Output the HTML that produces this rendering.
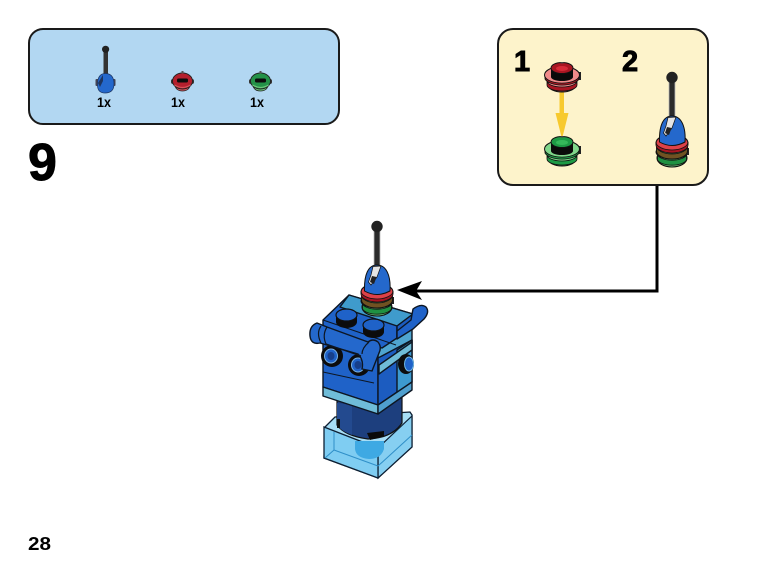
<!DOCTYPE html>
<html>
<head>
<meta charset="utf-8">
<style>
html,body{margin:0;padding:0;background:#fff;width:765px;height:578px;overflow:hidden}
svg{display:block}
text{font-family:"Liberation Sans",sans-serif;font-weight:bold;fill:#000}
.b{stroke:#000;stroke-width:.9px}
.k{stroke:#0d1622;stroke-width:1.4;stroke-linejoin:round}
</style>
</head>
<body>
<svg width="765" height="578" viewBox="0 0 765 578" xmlns="http://www.w3.org/2000/svg">
<defs>
<g id="ring">
  <rect x="15" y="-3" width="4" height="8" fill="#222"/>
  <path d="M-14 6 V10 A14 7 0 0 0 14 10 V6Z" style="fill:var(--l)" stroke="#111" stroke-width="1"/>
  <path d="M-15 6 A15 6 0 0 0 15 6 V10 A15 6 0 0 1 -15 10Z" style="fill:var(--d)" stroke="#111" stroke-width=".8"/>
  <ellipse cx="0" cy="0" rx="17.500" ry="8.500" style="fill:var(--l)" stroke="#111" stroke-width="1"/>
  <path d="M-17 2 A17.500 8 0 0 0 17 2 V4 A17.500 8 0 0 1 -17 4Z" style="fill:var(--d)" stroke="#111" stroke-width=".8"/>
  <path d="M-11 -8 V2 A11 4 0 0 0 11 2 V-8Z" fill="#0a0a0a"/>
  <ellipse cx="0" cy="-7" rx="11" ry="5.500" style="fill:var(--d)" stroke="#111" stroke-width="1"/>
  <ellipse cx="0" cy="-6.500" rx="6" ry="2.500" style="fill:var(--m)"/>
  <rect x="-1.500" y="-13" width="3" height="1.500" fill="#444"/>
</g>
<g id="mini">
  <rect x="-11.500" y="-2" width="23" height="5" rx="2" fill="#333"/>
  <path d="M-8 3 Q-7 10 0 10 Q7 10 8 3Z" style="fill:var(--l)" stroke="#222" stroke-width=".8"/>
  <ellipse cx="0" cy="0" rx="10" ry="8" style="fill:var(--d)" stroke="#222" stroke-width=".9"/>
  <rect x="-5.500" y="-2.500" width="11" height="4" rx="1.500" fill="#0c0c0c"/>
  <path d="M-8 4 Q0 9 8 4" fill="none" style="stroke:var(--l)" stroke-width="1.200"/>
  <rect x="-1" y="-10" width="2" height="2.500" fill="#555"/>
</g>
<g id="stack">
  <ellipse cx="672" cy="158" rx="15" ry="9" fill="#6cc97c" stroke="#111" stroke-width="1.100"/>
  <path d="M657.500 155 A15 7 0 0 0 686.500 155 V160 A15 7 0 0 1 657.500 160Z" fill="#1f9142" stroke="#111" stroke-width=".8"/>
  <ellipse cx="672" cy="152" rx="16" ry="7" fill="#5fbd6e" stroke="#111" stroke-width="1"/>
  <rect x="686" y="148" width="3" height="7" fill="#222"/>
  <path d="M656.500 146 A15.500 8 0 0 0 687.500 146 V151 A15.500 8 0 0 1 656.500 151Z" fill="#6f5222" stroke="#111" stroke-width=".9"/>
  <ellipse cx="672" cy="143" rx="16" ry="8.500" fill="#dd4148" stroke="#111" stroke-width="1.100"/>
  <path d="M656 142 A16 8 0 0 0 688 142 V145 A16 8 0 0 1 656 145Z" fill="#a81522" stroke="#111" stroke-width=".8"/>
  <rect x="669" y="81" width="6" height="40" fill="#2b2b2b" stroke="#bbb" stroke-width=".8"/>
  <circle cx="672" cy="77.500" r="5.700" fill="#222"/>
  <path d="M659.500 142 C659 126 663 116 672 116 C681 116 686 126 685 142 Q672 149 659.500 142Z" fill="#2468cc" stroke="#111" stroke-width="1"/>
  <path d="M668 117.500 L676 117 L672 128 L666 136 L663.500 133 L666 126Z" fill="#e4e4e4" stroke="#111" stroke-width=".7"/>
  <path d="M667 127 L671.500 128 L669 135 L665 133Z" fill="#222"/>
</g>
</defs>

<!-- blue parts panel -->
<rect x="29" y="29" width="310" height="95" rx="14" fill="#b2d7f2" stroke="#1a1a1a" stroke-width="2"/>
<rect x="103.500" y="50" width="4.500" height="26" fill="#333"/>
<circle cx="105.600" cy="49.300" r="3.600" fill="#222"/>
<rect x="95.500" y="79" width="20" height="7" rx="1" fill="#445"/>
<path d="M97.500 86 Q97 73 106 73.500 Q114 74 114 84 Q114 93 105 93 Q98 93 97.500 86Z" fill="#2468cc" stroke="#1d3560" stroke-width=".7"/>
<path d="M98 83 L103 75 V81 L100 87Z" fill="#1d3560"/>
<g style="--l:#d8545c;--m:#d73b46;--d:#b4202e"><use href="#mini" x="182.500" y="81"/></g>
<g style="--l:#6ec97c;--m:#3cab58;--d:#249248"><use href="#mini" x="260.500" y="81"/></g>
<text x="97" y="107" font-size="14" textLength="14" lengthAdjust="spacingAndGlyphs">1x</text>
<text x="171" y="107" font-size="14" textLength="14" lengthAdjust="spacingAndGlyphs">1x</text>
<text x="250" y="107" font-size="14" textLength="14" lengthAdjust="spacingAndGlyphs">1x</text>

<text x="28" y="180" font-size="52" class="b">9</text>
<text x="28" y="550" font-size="18" textLength="23" lengthAdjust="spacingAndGlyphs">28</text>

<!-- yellow sub-assembly panel -->
<rect x="498" y="29" width="210" height="156" rx="15" fill="#fdf3cb" stroke="#1a1a1a" stroke-width="2"/>
<text x="514" y="71" font-size="29" class="b">1</text>
<text x="622" y="71" font-size="29" class="b">2</text>

<rect x="559.500" y="90" width="4.500" height="24" fill="#f7c92e"/>
<g style="--l:#f08a8a;--m:#d62a38;--d:#a81522"><use href="#ring" x="562" y="75"/></g>
<path d="M555.500 113 H568.500 L562 139Z" fill="#f7c92e"/>
<g style="--l:#7fd68a;--m:#35b85a;--d:#1d9a45"><use href="#ring" x="562" y="149"/></g>
<use href="#stack"/>

<!-- connector -->
<path d="M657 186 V291 H416" fill="none" stroke="#000" stroke-width="3"/>
<path d="M397 290 L422 281 L416 291 L422 300Z" fill="#000"/>

<!-- clear base -->
<path d="M325 427 L335 417 L410 412 L412 415 V447 L378 478 L324 458Z" fill="#a7def6" stroke="#0d1f33" stroke-width="1.300"/>
<path d="M378 448 L412 416 V447 L378 478Z" fill="#86cff1" stroke="#0d1f33" stroke-width="1.200"/>
<path d="M324 427 L378 448 V478 L324 458Z" fill="#7fcdf2" stroke="#0d1f33" stroke-width="1.300"/>
<path d="M334 432 V450 M334 450 L378 466 M334 450 L325 458 M378 466 L412 435" fill="none" stroke="#2f8fc8" stroke-width="1"/>
<path d="M355 441 V449 Q356 458 369 459 Q381 459 384 449 V441Z" fill="#3ea9e3"/>
<!-- cylinder -->
<path d="M337 398 V425 Q345 436 368 439 Q392 438 402 423 V398Z" fill="#1d3f7e" stroke="#111" stroke-width="1.200"/>
<path d="M337 403 V425 Q341 431 352 435 V405Z" fill="#234a8f"/>
<path d="M367 433 L384 431 L384 436 L370 440Z" fill="#0a0a0a"/>
<rect x="337" y="419" width="3" height="9" fill="#111"/>
<!-- body faces -->
<path d="M323 340 L378 358 V405 L323 387Z" fill="#1f62c8" class="k"/>
<path d="M323 372 L374 383" stroke="#0d1622" stroke-width="1" fill="none"/>
<path d="M378 346 L397 334 L412 322 V342 L378 360Z" fill="#4fa5d0" class="k"/>
<path d="M378 358 L412 340 V382 L378 405Z" fill="#1c5cc0" class="k"/>
<path d="M397 350 L412 340 V382 L397 393Z" fill="#3d9ad0" class="k"/>
<path d="M323 387 L378 405 V414 L323 396Z" fill="#6fbcd8" class="k"/>
<path d="M378 405 L412 382 V390 L378 414Z" fill="#4f9fce" class="k"/>
<path d="M379 365 L412 342 V350 L379 374Z" fill="#6fbcd8" class="k"/>
<!-- knobs -->
<ellipse cx="406" cy="364" rx="8" ry="10" fill="#0c0c0c"/>
<ellipse cx="409" cy="364" rx="4.500" ry="7" fill="#1f62c8" stroke="#6eb8e8" stroke-width="1"/>
<!-- top plate -->
<path d="M323 320 L349 295 L413 314 L397 327 L397 338 L382 348 L323 330Z" fill="#1f62c8" class="k"/>
<path d="M349 295 L413 314 L397 326 L340 307Z" fill="#3f9bcc" class="k"/>
<path d="M397 326 L413 314 V324 L397 337Z" fill="#1c5cc0" class="k"/>
<path d="M323 320 L396 345" stroke="#0d1622" stroke-width="1" fill="none"/>
<circle cx="332" cy="356" r="11" fill="#0c0c0c"/>
<ellipse cx="331" cy="356" rx="6.500" ry="7" fill="#1f62c8" stroke="#7ab3e6" stroke-width="1"/>
<ellipse cx="331" cy="356" rx="3.500" ry="4" fill="#173f8a"/>
<circle cx="359" cy="365" r="11" fill="#0c0c0c"/>
<ellipse cx="358" cy="365" rx="6.500" ry="7" fill="#1f62c8" stroke="#7ab3e6" stroke-width="1"/>
<ellipse cx="358" cy="365" rx="3.500" ry="4" fill="#173f8a"/>
<!-- right clip -->
<path d="M413 309 Q421 303 426 307 Q430 312 424 319 L413 329 L397 339 L397 331 L411 320Z" fill="#1f62c8" class="k"/>
<!-- left clip -->
<path d="M317 323 Q309 326 310 336 Q311 345 320 343 L358 354 Q364 360 362 369 L372 371 L379 353 Q382 347 378 342 Q373 338 368 342 L327 327 Z" fill="#2468cc" class="k"/>
<path d="M321 326 Q316 333 321 343 M327 327 Q322 335 326 344 L361 356 M369 342 Q362 348 362 354" fill="none" stroke="#0d1622" stroke-width="1.200"/>
<!-- studs -->
<path d="M336 315 V322 A10.500 6 0 0 0 357 322 V315Z" fill="#0c0c0c"/>
<ellipse cx="346.500" cy="315" rx="10.500" ry="6" fill="#1f62c8" stroke="#111" stroke-width="1.200"/>
<path d="M363 325 V332 A10.500 6 0 0 0 384 332 V325Z" fill="#0c0c0c"/>
<ellipse cx="373.500" cy="325" rx="10.500" ry="6" fill="#1f62c8" stroke="#111" stroke-width="1.200"/>
<!-- top stack -->
<use href="#stack" transform="translate(-295 149)"/>
</svg>
</body>
</html>
